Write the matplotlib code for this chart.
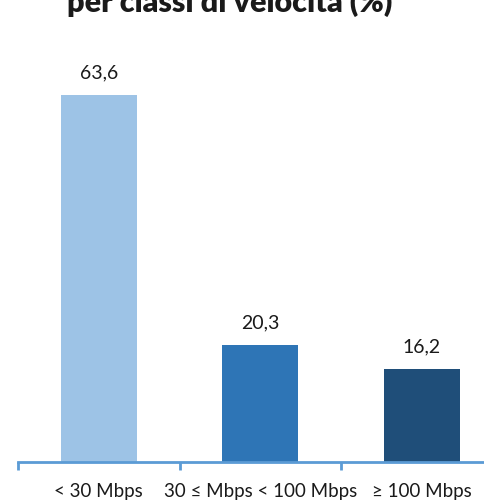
import matplotlib.pyplot as plt
import numpy as np

categories = ["< 30 Mbps", "30 \u2264 Mbps < 100 Mbps", "\u2265 100 Mbps"]
values = [63.6, 20.3, 16.2]
value_labels = ["63,6", "20,3", "16,2"]
colors = ["#9DC3E6", "#2E75B6", "#1F4E79"]

W, H = 484, 504
fig = plt.figure(figsize=(W / 100, H / 100), dpi=100)
plt.rcParams['font.family'] = ['Lato', 'DejaVu Sans']

# axes extends past the right edge like the reference
ax = fig.add_axes([18 / W, 42 / H, 484.5 / W, 70 * 5.77 / H])
x = np.arange(len(categories))
ax.bar(x, values, width=0.47, color=colors)
ax.set_xlim(-0.5, 2.5)
ax.set_ylim(0, 70)

for xi, v, lab in zip(x, values, value_labels):
    ax.text(xi, v + 2.3, lab, ha="center", va="bottom", fontsize=14, color="#1a1a1a")

for s in ["top", "right", "left"]:
    ax.spines[s].set_visible(False)
ax.spines["bottom"].set_color("#5B9BD5")
ax.spines["bottom"].set_linewidth(2)
ax.set_yticks([])
ax.set_xticks([-0.5, 0.5, 1.5, 2.5], minor=False)
ax.set_xticklabels([])
ax.tick_params(axis="x", which="major", length=6, width=2, color="#5B9BD5")
ax.set_xticks(x, minor=True)
ax.set_xticklabels(categories, minor=True, fontsize=13.5, color="#1a1a1a")
ax.tick_params(axis="x", which="minor", length=0, pad=15)

# title clipped at the top of the picture, as in the reference
fig.text(230 / W, 1 - 12 / H, "per classi di velocit\u00e0 (%)", ha="center", va="baseline",
         fontsize=22, fontweight="heavy", color="#1a1a1a")

fig.savefig("out.png", dpi=100)
